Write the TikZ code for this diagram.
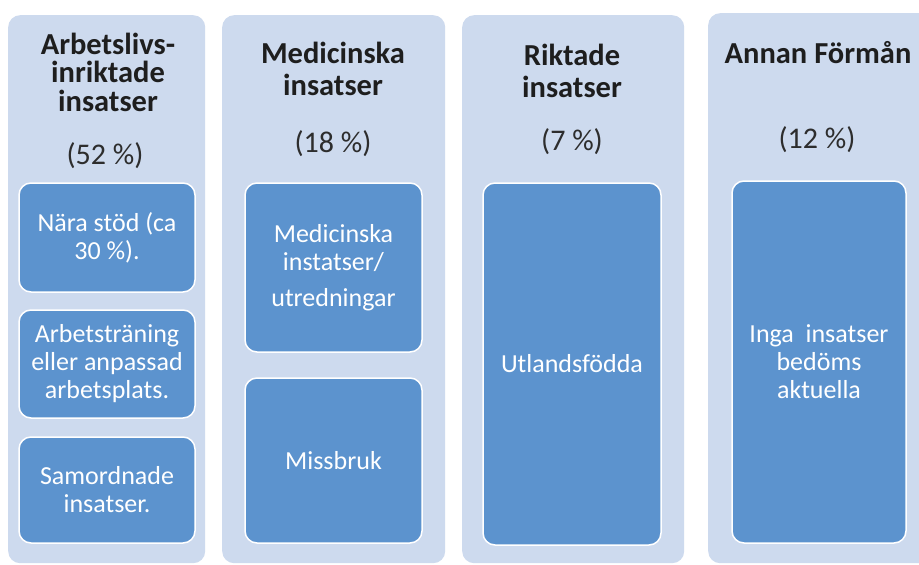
\documentclass[tikz,border=0pt]{standalone}
\usepackage{fontspec}
\setmainfont{Carlito}
\definecolor{outerblue}{RGB}{205,218,238}
\definecolor{innerblue}{RGB}{92,147,206}
\definecolor{titlecol}{RGB}{30,30,30}
\definecolor{pctcol}{RGB}{45,45,45}
\begin{document}
\begin{tikzpicture}[x=1pt,y=-1pt,
  column/.style={fill=outerblue, draw=none, rounded corners=12pt, inner sep=0pt, anchor=north west},
  itembox/.style={fill=innerblue, draw=white, line width=1.5pt, rounded corners=12pt,
    text=white, align=center, inner sep=0pt, font=\fontsize{26}{28}\selectfont},
  titletext/.style={font=\fontsize{30.5}{28.5}\selectfont\bfseries, text=titlecol, align=center, inner sep=0pt, anchor=base},
  pct/.style={font=\fontsize{30}{30}\selectfont, text=pctcol, inner sep=0pt, anchor=base}]
\clip (0,0) rectangle (919,565);
\fill[white] (0,0) rectangle (919,565);
% columns
\node[column, minimum width=197pt, minimum height=548pt] (c1) at (8,15) {};
\node[column, minimum width=223pt, minimum height=548pt] (c2) at (222,15) {};
\node[column, minimum width=222pt, minimum height=548pt] (c3) at (462,15) {};
\node[column, minimum width=230pt, minimum height=550pt] (c4) at (708,13) {};
% titles (anchor = baseline of last line)
\node[titletext] (t1) at (108,111) {Arbetslivs-\\inriktade\\insatser};
\node[pct] (p1) at (105,164) {(52 \%)};
\node[titletext, font=\fontsize{30.5}{32}\selectfont\bfseries] (t2) at (333,95) {Medicinska\\insatser};
\node[pct] (p2) at (333,152) {(18 \%)};
\node[titletext, font=\fontsize{30.5}{32}\selectfont\bfseries] (t3) at (572,97) {Riktade\\insatser};
\node[pct] (p3) at (572,150) {(7 \%)};
\node[titletext] (t4) at (818,63) {Annan Förmån};
\node[pct] (p4) at (817,148) {(12 \%)};
% inner boxes
\node[itembox, minimum width=176pt, minimum height=109pt] (b11) at (107,237.5) {Nära stöd (ca\\30 \%).};
\node[itembox, minimum width=176pt, minimum height=108pt] (b12) at (107,364) {Arbetsträning\\eller anpassad\\arbetsplats.};
\node[itembox, minimum width=176pt, minimum height=106pt] (b13) at (107,490) {Samordnade\\insatser.};
\node[itembox, minimum width=177pt, minimum height=169pt] (b21) at (333.5,267.5) {Medicinska\\instatser/\\[8pt]utredningar};
\node[itembox, minimum width=177pt, minimum height=165pt] (b22) at (333.5,460.5) {Missbruk};
\node[itembox, minimum width=178pt, minimum height=362pt] (b31) at (572,364) {Utlandsfödda};
\node[itembox, minimum width=174pt, minimum height=362pt] (b41) at (819,362) {Inga~ insatser\\bedöms\\aktuella};
\end{tikzpicture}
\end{document}
